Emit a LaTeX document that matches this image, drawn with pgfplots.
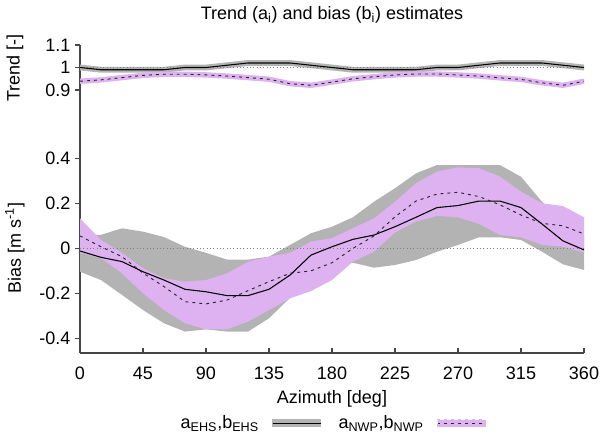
\documentclass[border=0pt]{standalone}
\usepackage{pgfplots}
\pgfplotsset{compat=1.18}
\usepackage{pgfplotstable}
\usepgfplotslibrary{fillbetween}
\usepackage{fontspec}
\setmainfont{Liberation Sans}

\definecolor{ehsgray}{RGB}{179,179,179}
\definecolor{nwppink}{RGB}{222,178,241}
\definecolor{axgray}{RGB}{70,70,70}

% bias estimates b_i
\pgfplotstableread{
deg  ehs     ehsU    ehsL    nwp     nwpU    nwpL
0    -0.012  0.060  -0.104   0.055   0.133  -0.020
15   -0.040  0.060  -0.141   0.007   0.037  -0.044
30   -0.059  0.089  -0.207  -0.037  -0.020  -0.111
45   -0.104  0.074  -0.274  -0.110  -0.089  -0.200
60   -0.141  0.050  -0.333  -0.170  -0.133  -0.274
75   -0.182  0.007  -0.370  -0.237  -0.148  -0.333
90   -0.193 -0.020  -0.360  -0.247  -0.141  -0.360
105  -0.210 -0.050  -0.370  -0.230  -0.111  -0.360
120  -0.210 -0.050  -0.370  -0.188  -0.060  -0.326
135  -0.182 -0.037  -0.311  -0.148  -0.037  -0.274
150  -0.119  0.015  -0.220  -0.111  -0.020  -0.222
165  -0.030  0.067  -0.140  -0.100   0.030  -0.190
180   0.007  0.096  -0.080  -0.064   0.045  -0.141
195   0.040  0.138  -0.064   0.000   0.090  -0.059
210   0.059  0.207  -0.086   0.055   0.133  -0.015
225   0.096  0.267  -0.074   0.140   0.207   0.070
240   0.138  0.333  -0.052   0.210   0.289   0.119
255   0.181  0.370  -0.015   0.241   0.341   0.144
270   0.190  0.370   0.015   0.249   0.360   0.138
285   0.210  0.370   0.049   0.230   0.356   0.108
300   0.210  0.370   0.049   0.193   0.319   0.059
315   0.181  0.318   0.037   0.148   0.252   0.049
330   0.108  0.207  -0.015   0.111   0.200   0.015
345   0.033  0.120  -0.071   0.100   0.188   0.007
360  -0.007  0.060  -0.096   0.064   0.138  -0.019
}\biastable

% trend estimates a_i
\pgfplotstableread{
deg  ehs    ehsU   ehsL   nwp    nwpU   nwpL
0    1.000  1.013  0.987  0.939  0.951  0.927
15   0.990  1.003  0.977  0.945  0.957  0.933
30   0.990  1.003  0.977  0.955  0.967  0.943
45   0.990  1.003  0.977  0.965  0.977  0.953
60   0.990  1.003  0.977  0.970  0.982  0.958
75   1.000  1.013  0.987  0.970  0.982  0.958
90   1.000  1.013  0.987  0.967  0.979  0.955
105  1.010  1.023  0.997  0.962  0.974  0.950
120  1.020  1.033  1.007  0.955  0.967  0.943
135  1.020  1.033  1.007  0.948  0.960  0.936
150  1.020  1.033  1.007  0.928  0.940  0.916
165  1.010  1.023  0.997  0.921  0.933  0.909
180  1.000  1.013  0.987  0.935  0.947  0.923
195  0.990  1.003  0.977  0.950  0.962  0.938
210  0.990  1.003  0.977  0.959  0.971  0.947
225  0.990  1.003  0.977  0.967  0.979  0.955
240  0.990  1.003  0.977  0.971  0.983  0.959
255  1.000  1.013  0.987  0.971  0.983  0.959
270  1.000  1.013  0.987  0.967  0.979  0.955
285  1.010  1.023  0.997  0.962  0.974  0.950
300  1.020  1.033  1.007  0.954  0.966  0.942
315  1.020  1.033  1.007  0.947  0.959  0.935
330  1.020  1.033  1.007  0.932  0.944  0.920
345  1.010  1.023  0.997  0.921  0.933  0.909
360  1.000  1.013  0.987  0.939  0.951  0.927
}\trendtable

\pgfplotsset{
  common/.style={
    scale only axis, width=378pt, xmin=0, xmax=360,
    axis line style={draw=axgray, line width=0.9pt},
    tick style={draw=axgray, line width=0.9pt},
    major tick length=3.75pt,
    /pgf/number format/assume math mode=true,
    every axis y label/.style={rotate=90, anchor=center},
  },
}

\begin{document}
\begin{tikzpicture}[font=\fontsize{13.5}{16}\selectfont]

% ---------- bias panel ----------
\begin{axis}[common,
  at={(0pt,0pt)}, anchor=south west,
  height=189.75pt, ymin=-0.465, ymax=0.659,
  axis x line*=bottom, axis y line*=left,
  xtick={0,45,...,360}, xtick align=inside, ytick align=outside,
  ytick={-0.4,-0.2,0,0.2,0.4}, yticklabels={-0.4,-0.2,0,0.2,0.4},
  xticklabel style={yshift=-7pt},
  xlabel={Azimuth [deg]},
  xlabel style={at={(axis description cs:0.5,0)}, anchor=center, yshift=-34.5pt},
  ylabel={Bias [m s\textsuperscript{-1}]},
  ylabel style={at={(axis description cs:-0.129,0.415)}},
  legend plot pos=right,
  legend style={at={(axis description cs:0.5,-0.237)}, anchor=north, draw=none, fill=none,
    legend columns=2, inner sep=0pt,
    /tikz/every odd column/.append style={column sep=8pt},
    /tikz/every even column/.append style={column sep=11pt}},
]
\addplot[draw=none, name path=eu, forget plot] table[x=deg, y=ehsU] {\biastable};
\addplot[draw=none, name path=el, forget plot] table[x=deg, y=ehsL] {\biastable};
\addplot[ehsgray, forget plot] fill between[of=eu and el];
\addplot[draw=none, name path=nu, forget plot] table[x=deg, y=nwpU] {\biastable};
\addplot[draw=none, name path=nl, forget plot] table[x=deg, y=nwpL] {\biastable};
\addplot[nwppink, forget plot] fill between[of=nu and nl];
\addplot[gray, dotted, line width=0.5pt, forget plot] coordinates {(0,0) (360,0)};
\addplot[black, line width=0.8pt,
  legend image code/.code={\fill[ehsgray] (0pt,-2.6pt) rectangle (36pt,2.6pt);
    \draw[black, line width=0.8pt] (0pt,0pt) -- (36pt,0pt);}]
  table[x=deg, y=ehs] {\biastable};
\addlegendentry{a\textsubscript{EHS},b\textsubscript{EHS}}
\addplot[black!85, line width=0.7pt, dash pattern=on 2.2pt off 3pt,
  legend image code/.code={\fill[nwppink] (0pt,-2.6pt) rectangle (36pt,2.6pt);
    \draw[black!85, line width=0.7pt, dash pattern=on 2.2pt off 3pt] (0pt,0pt) -- (36pt,0pt);}]
  table[x=deg, y=nwp] {\biastable};
\addlegendentry{a\textsubscript{NWP},b\textsubscript{NWP}}
\node[anchor=west, inner sep=0pt] at (axis cs:360,0) [xshift=11.25pt] {b\textsubscript{i}};
\end{axis}

% ---------- trend panel ----------
\begin{axis}[common,
  at={(0pt,189.75pt)}, anchor=south west,
  height=41.25pt, ymin=0.8556, ymax=1.1,
  axis x line=none, axis y line*=left, ytick align=outside,
  ytick={0.9,1,1.1}, yticklabels={0.9,1,1.1},
  ylabel={Trend [-]},
  ylabel style={at={(axis description cs:-0.129,0.58)}},
  title={Trend (a\textsubscript{i}) and bias (b\textsubscript{i}) estimates},
  title style={at={(axis description cs:0.5,1)}, anchor=center, yshift=16.5pt},
]
\addplot[draw=none, name path=teu] table[x=deg, y=ehsU] {\trendtable};
\addplot[draw=none, name path=tel] table[x=deg, y=ehsL] {\trendtable};
\addplot[ehsgray] fill between[of=teu and tel];
\addplot[draw=none, name path=tnu] table[x=deg, y=nwpU] {\trendtable};
\addplot[draw=none, name path=tnl] table[x=deg, y=nwpL] {\trendtable};
\addplot[nwppink] fill between[of=tnu and tnl];
\addplot[gray, dotted, line width=0.5pt] coordinates {(0,1) (360,1)};
\addplot[black, line width=0.8pt] table[x=deg, y=ehs] {\trendtable};
\addplot[black!85, line width=0.7pt, dash pattern=on 2.2pt off 3pt] table[x=deg, y=nwp] {\trendtable};
\node[anchor=west, inner sep=0pt] at (axis cs:360,1) [xshift=11.25pt] {a\textsubscript{i}};
\end{axis}

\pgfresetboundingbox
\path[use as bounding box] (-60pt,-63.75pt) rectangle (399.75pt,264.75pt);
\end{tikzpicture}
\end{document}
